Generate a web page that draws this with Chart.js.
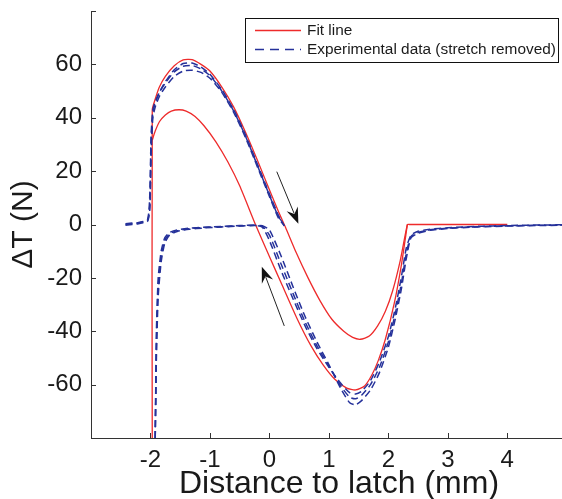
<!DOCTYPE html>
<html>
<head>
<meta charset="utf-8">
<title>Fit vs experimental data</title>
<script src="https://cdn.jsdelivr.net/npm/chart.js@4.4.1/dist/chart.umd.min.js"></script>
<style>
  html, body { margin: 0; padding: 0; background: #fff; overflow: hidden; }
  #wrap { width: 562px; height: 499px; }
</style>
</head>
<body>
<div id="wrap"><canvas id="chart" width="562" height="499"></canvas></div>
<script>
// axis ticks
const xTicks = [-3, -2, -1, 0, 1, 2, 3, 4];
const xTickLabels = ["", "-2", "-1", "0", "1", "2", "3", "4"];
const yTicks = [-80, -60, -40, -20, 0, 20, 40, 60, 80];
const yTickLabels = ["", "-60", "-40", "-20", "0", "20", "40", "60", ""];

// fit line, outer branch (vertical jump, peak ~62, flat tail)
const fitAX = [-1.97, -1.97, -1.92, -1.85, -1.75, -1.6, -1.45, -1.3, -1.15, -1.0, -0.8, -0.6, -0.4, -0.2, 0.0, 0.15, 0.27, 0.45, 0.65, 0.85, 1.05, 1.25, 1.4, 1.53, 1.68, 1.82, 1.95, 2.07, 2.2, 2.32, 2.35, 4.0];
const fitAY = [-80, 43, 47, 51.5, 55.5, 59.5, 61.7, 61.8, 60, 57.5, 51.5, 44, 34.5, 24, 13, 5, -1, -10.5, -20, -28.5, -35.5, -40, -42.3, -43, -41.8, -38, -32.5, -25, -13.5, 0, 0, 0];

// fit line, inner branch (peak ~43, min ~-62)
const fitBX = [-1.97, -1.92, -1.85, -1.75, -1.65, -1.52, -1.4, -1.25, -1.1, -0.9, -0.7, -0.5, -0.235, 0.0, 0.2, 0.46, 0.7, 0.9, 1.1, 1.3, 1.45, 1.6, 1.72, 1.83, 1.95, 2.1, 2.22, 2.32];
const fitBY = [31.6, 35, 38.5, 41, 42.5, 43, 42.5, 40.5, 37, 31, 23.5, 14.5, 0, -12, -22, -35, -45.5, -52.5, -58, -61.3, -62, -60.5, -56.5, -51, -43, -29.5, -15, 0];

// experimental data, loading branch (three runs)
const upperX = [-2.42, -2.2, -2.05, -2.01, -1.99, -1.96, -1.92, -1.85, -1.75, -1.6, -1.45, -1.3, -1.15, -1.0, -0.8, -0.6, -0.4, -0.2, 0.0, 0.15, 0.25];
const upperRun1 = [0, 0.6, 1.5, 8, 30, 42, 45.5, 49.5, 53.5, 58, 60.3, 60.5, 59, 56.3, 50.5, 43, 33.5, 22.5, 11.5, 3.5, -0.5];
const upperRun2 = [0.3, 0.8, 1.8, 12, 33, 43, 46, 49.5, 53, 57.2, 59.3, 59.6, 58.3, 55.8, 50, 42.5, 33, 22, 11, 3, 0];
const upperRun3 = [-0.3, 0.3, 1.2, 6, 26, 40, 44, 48, 51.5, 55.5, 57.5, 57.8, 57, 54.8, 49.5, 42, 32.5, 21.5, 10.5, 2.5, -0.5];

// experimental data, unloading branch (three runs)
const lowerX = [-1.92, -1.9, -1.87, -1.82, -1.76, -1.68, -1.55, -1.35, -1.1, -0.8, -0.5, -0.25, -0.12, 0.0, 0.2, 0.4, 0.6, 0.8, 1.0, 1.2, 1.35, 1.45, 1.55, 1.7, 1.85, 2.0, 2.12, 2.22, 2.3, 2.38, 2.5, 2.7, 3.0, 3.5, 4.0, 4.5, 4.95];
const lowerRun1 = [-80, -40, -20, -10, -5, -3, -2, -1.4, -1, -0.7, -0.4, -0.3, -1, -6, -17.5, -28, -38, -46.5, -53.5, -59.5, -63, -63.5, -62.5, -58.5, -51.5, -42, -31, -19.5, -9, -4, -2.5, -1.8, -1.2, -0.7, -0.4, -0.2, -0.1];
const lowerRun2 = [-80, -45, -23, -12, -6, -3.5, -2.3, -1.6, -1.1, -0.8, -0.5, -0.3, -0.6, -4, -15, -26, -36.5, -45.5, -53, -60.5, -64.7, -65.3, -64, -60, -53.5, -44, -33, -22, -11, -4.5, -3, -2, -1.4, -0.8, -0.5, -0.3, -0.2];
const lowerRun3 = [-80, -50, -27, -14, -7, -4, -2.6, -1.8, -1.3, -0.9, -0.6, -0.4, -0.5, -2, -12, -23.5, -34.5, -44, -52.5, -61.5, -66.8, -67.5, -66, -62, -55.5, -46, -35, -24, -13, -5, -3.3, -2.2, -1.5, -0.9, -0.6, -0.4, -0.3];

// direction arrows (data units): tail -> tip
const arrowFrom = [[0.124, 19.8], [0.25, -38]];
const arrowTo = [[0.487, 0.3], [-0.128, -15.8]];

const fitColor = "#ee2b2b";
const dataColor = "#25319a";
const axisColor = "#333333";
const textColor = "#1a1a1a";

Chart.defaults.font.family = "'Liberation Sans', Arial, Helvetica, sans-serif";
Chart.defaults.color = textColor;

function points(xs, ys) {
  return xs.map((x, i) => ({ x: x, y: ys[i] }));
}

function fitSet(xs, ys) {
  return {
    data: points(xs, ys),
    borderColor: fitColor,
    borderWidth: 1.3,
    pointRadius: 0,
    tension: 0.2,
    order: 2,
  };
}

function dataSet(xs, ys) {
  return {
    data: points(xs, ys),
    borderColor: dataColor,
    borderWidth: 1.5,
    borderDash: [7, 4],
    pointRadius: 0,
    tension: 0.2,
    order: 1,
  };
}

function drawArrow(ctx, x0, y0, x1, y1) {
  const a = Math.atan2(y1 - y0, x1 - x0);
  const c = Math.cos(a), s = Math.sin(a);
  const len = 16, half = 6;
  ctx.beginPath();
  ctx.moveTo(x0, y0);
  ctx.lineTo(x1 - len * 0.7 * c, y1 - len * 0.7 * s);
  ctx.stroke();
  ctx.beginPath();
  ctx.moveTo(x1, y1);
  ctx.lineTo(x1 - len * c + half * s, y1 - len * s - half * c);
  ctx.lineTo(x1 - len * 0.65 * c, y1 - len * 0.65 * s);
  ctx.lineTo(x1 - len * c - half * s, y1 - len * s + half * c);
  ctx.closePath();
  ctx.fill();
}

const extras = {
  id: "extras",
  afterDraw(chart) {
    const { ctx, chartArea, scales } = chart;
    const x = scales.x, y = scales.y;
    ctx.save();

    // inward tick marks
    ctx.strokeStyle = axisColor;
    ctx.lineWidth = 1;
    ctx.beginPath();
    x.ticks.forEach((t) => {
      const px = Math.round(x.getPixelForValue(t.value)) + 0.5;
      ctx.moveTo(px, chartArea.bottom);
      ctx.lineTo(px, chartArea.bottom - 5);
    });
    y.ticks.forEach((t) => {
      const py = Math.round(y.getPixelForValue(t.value)) + 0.5;
      ctx.moveTo(chartArea.left, py);
      ctx.lineTo(chartArea.left + 5, py);
    });
    ctx.stroke();

    // arrows
    ctx.strokeStyle = "#222";
    ctx.fillStyle = "#111";
    ctx.lineWidth = 1;
    arrowFrom.forEach((p, i) => {
      drawArrow(ctx,
        x.getPixelForValue(p[0]), y.getPixelForValue(p[1]),
        x.getPixelForValue(arrowTo[i][0]), y.getPixelForValue(arrowTo[i][1]));
    });

    // legend box
    const bx = 245.5, by = 18.5, bw = 313, bh = 44;
    ctx.fillStyle = "#fff";
    ctx.fillRect(bx, by, bw, bh);
    ctx.strokeStyle = "#111";
    ctx.lineWidth = 1;
    ctx.strokeRect(bx, by, bw, bh);
    ctx.lineWidth = 1.3;
    ctx.strokeStyle = fitColor;
    ctx.beginPath();
    ctx.moveTo(255, 30.5);
    ctx.lineTo(301, 30.5);
    ctx.stroke();
    ctx.lineWidth = 1.5;
    ctx.strokeStyle = dataColor;
    ctx.setLineDash([9, 6]);
    ctx.beginPath();
    ctx.moveTo(255, 49.5);
    ctx.lineTo(301, 49.5);
    ctx.stroke();
    ctx.setLineDash([]);
    ctx.fillStyle = textColor;
    ctx.font = "15.4px 'Liberation Sans', Arial, sans-serif";
    ctx.textBaseline = "middle";
    ctx.textAlign = "left";
    ctx.fillText("Fit line", 307, 31);
    ctx.fillText("Experimental data (stretch removed)", 307, 50);

    // x axis title
    ctx.font = "32px 'Liberation Sans', Arial, sans-serif";
    ctx.textAlign = "center";
    ctx.textBaseline = "alphabetic";
    ctx.fillText("Distance to latch (mm)", 339, 493);

    ctx.restore();
  },
};

const ctx = document.getElementById("chart").getContext("2d");

new Chart(ctx, {
  type: "line",
  data: {
    datasets: [
      fitSet(fitAX, fitAY),
      fitSet(fitBX, fitBY),
      dataSet(upperX, upperRun1),
      dataSet(upperX, upperRun2),
      dataSet(upperX, upperRun3),
      dataSet(lowerX, lowerRun1),
      dataSet(lowerX, lowerRun2),
      dataSet(lowerX, lowerRun3),
    ],
  },
  options: {
    responsive: false,
    animation: false,
    layout: { padding: { top: 11, right: 0, left: 0, bottom: 0 } },
    plugins: { legend: { display: false }, tooltip: { enabled: false } },
    scales: {
      x: {
        type: "linear",
        min: -3,
        max: 4.92,
        afterBuildTicks: (s) => { s.ticks = xTicks.map((v) => ({ value: v })); },
        afterFit: (s) => {
          s.height = 61;
          s.paddingLeft = 0;
          s.paddingRight = 0;
        },
        grid: { display: false, drawTicks: false },
        border: { display: true, color: axisColor, width: 1 },
        ticks: {
          padding: 8,
          maxRotation: 0,
          autoSkip: false,
          font: { size: 24 },
          color: textColor,
          callback: (v, i) => xTickLabels[i],
        },
      },
      y: {
        type: "linear",
        min: -80,
        max: 80,
        afterBuildTicks: (s) => { s.ticks = yTicks.map((v) => ({ value: v })); },
        afterFit: (s) => {
          s.width = 91;
          s.paddingTop = 0;
          s.paddingBottom = 0;
        },
        grid: { display: false, drawTicks: false },
        border: { display: true, color: axisColor, width: 1 },
        ticks: {
          padding: 9,
          autoSkip: false,
          font: { size: 24 },
          color: textColor,
          callback: (v, i) => yTickLabels[i],
        },
        title: {
          display: true,
          text: "ΔT (N)",
          font: { size: 30 },
          color: textColor,
          padding: { top: 6, bottom: 0 },
        },
      },
    },
  },
  plugins: [extras],
});
</script>
</body>
</html>
